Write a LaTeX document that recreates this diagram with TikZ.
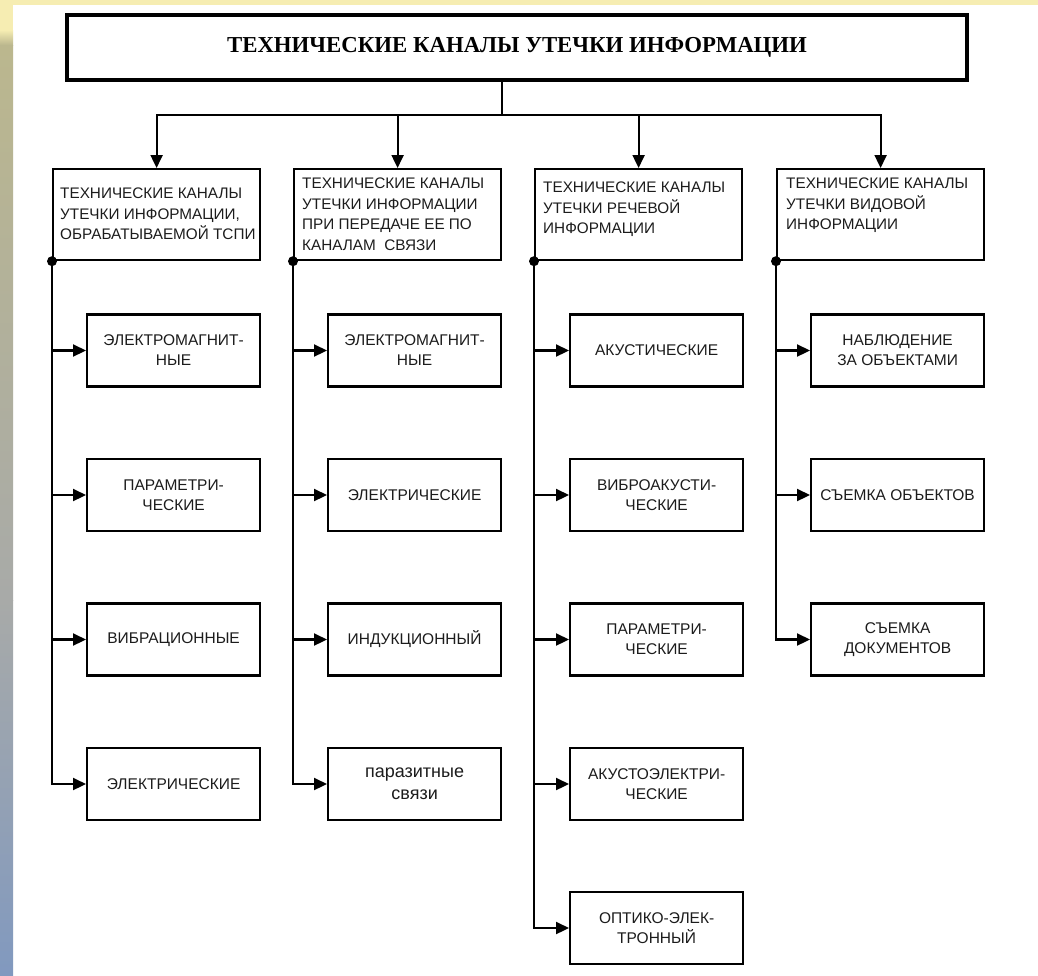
\documentclass[tikz,border=0pt]{standalone}
\usepackage{fontspec}
\setmainfont{Liberation Sans}
\newfontfamily\titlefont{Liberation Serif}
\usetikzlibrary{arrows.meta}
\definecolor{bgyellow}{HTML}{F6EDB2}
\definecolor{bgolive}{HTML}{BBB78E}
\definecolor{bgmid}{HTML}{A8AAA8}
\definecolor{bgblue}{HTML}{8199BF}
\definecolor{txt}{HTML}{1C1C1C}
\begin{document}
\begin{tikzpicture}[x=1pt,y=-1pt,
  titlebox/.style={draw, line width=4.5pt, minimum width=900pt, minimum height=65pt, inner sep=0pt,
    font={\titlefont\bfseries\fontsize{22.8}{27}\selectfont}},
  catbox/.style={draw, line width=2.2pt, minimum width=207pt, minimum height=91pt, inner sep=0pt, anchor=north west},
  cattext/.style={anchor=north west, inner sep=0pt, align=left, text=txt, font={\fontsize{15.3}{20.5}\selectfont}},
  childbox/.style={draw, line width=2.2pt, minimum width=173pt, minimum height=72pt, inner sep=0pt, anchor=west,
    align=center, text=txt, font={\fontsize{15.5}{20}\selectfont}},
  conn/.style={line width=2.2pt},
  arr/.style={line width=2.2pt, -{Triangle[length=13pt,width=12pt]}},
  dot/.style={circle, fill=black, inner sep=0pt, minimum size=10pt}
]
\useasboundingbox (0,0) rectangle (1038,975);
% background
\fill[white] (0,0) rectangle (1038,975);
\fill[bgyellow] (0,0) rectangle (1038,5);
\fill[bgyellow] (0,0) rectangle (13,30);
\shade[top color=bgyellow, bottom color=bgolive] (0,30) rectangle (13,45);
\shade[top color=bgolive, bottom color=bgmid] (0,45) rectangle (13,600);
\shade[top color=bgmid, bottom color=bgblue] (0,600) rectangle (13,975);

% title
\node[titlebox] (title) at (517,47.5) {ТЕХНИЧЕСКИЕ КАНАЛЫ УТЕЧКИ ИНФОРМАЦИИ};
\coordinate (hub) at (502,115);

% category boxes
\node[catbox] (c1) at (52,168) {};
\node[catbox] (c2) at (293,168) {};
\node[catbox] (c3) at (534,168) {};
\node[catbox] (c4) at (776,168) {};
\node[cattext] (t1) at ([shift={(8,20)}]c1.north west) {ТЕХНИЧЕСКИЕ КАНАЛЫ\\УТЕЧКИ ИНФОРМАЦИИ,\\ОБРАБАТЫВАЕМОЙ ТСПИ};
\node[cattext] (t2) at ([shift={(9,10)}]c2.north west) {ТЕХНИЧЕСКИЕ КАНАЛЫ\\УТЕЧКИ ИНФОРМАЦИИ\\ПРИ ПЕРЕДАЧЕ ЕЕ ПО\\КАНАЛАМ\ \ СВЯЗИ};
\node[cattext] (t3) at ([shift={(9,14)}]c3.north west) {ТЕХНИЧЕСКИЕ КАНАЛЫ\\УТЕЧКИ РЕЧЕВОЙ\\ИНФОРМАЦИИ};
\node[cattext] (t4) at ([shift={(10,10)}]c4.north west) {ТЕХНИЧЕСКИЕ КАНАЛЫ\\УТЕЧКИ ВИДОВОЙ\\ИНФОРМАЦИИ};

% top connectors
\draw[conn] (title.south -| hub) -- (hub);
\draw[arr] (hub) -| (c1.north);
\draw[arr] (hub) -| (c2.north);
\draw[arr] (hub) -| (c3.north);
\draw[arr] (hub) -| (c4.north);

% column 1
\node[childbox] (a1) at (86,350.5) {ЭЛЕКТРОМАГНИТ-\\НЫЕ};
\node[childbox] (a2) at (86,495) {ПАРАМЕТРИ-\\ЧЕСКИЕ};
\node[childbox] (a3) at (86,639.5) {ВИБРАЦИОННЫЕ};
\node[childbox] (a4) at (86,784) {ЭЛЕКТРИЧЕСКИЕ};
% column 2
\node[childbox] (b1) at (327,350.5) {ЭЛЕКТРОМАГНИТ-\\НЫЕ};
\node[childbox] (b2) at (327,495) {ЭЛЕКТРИЧЕСКИЕ};
\node[childbox] (b3) at (327,639.5) {ИНДУКЦИОННЫЙ};
\node[childbox, font={\fontsize{18}{22}\selectfont}] (b4) at (327,784) {паразитные\\связи};
% column 3
\node[childbox] (d1) at (569,350.5) {АКУСТИЧЕСКИЕ};
\node[childbox] (d2) at (569,495) {ВИБРОАКУСТИ-\\ЧЕСКИЕ};
\node[childbox] (d3) at (569,639.5) {ПАРАМЕТРИ-\\ЧЕСКИЕ};
\node[childbox] (d4) at (569,784) {АКУСТОЭЛЕКТРИ-\\ЧЕСКИЕ};
\node[childbox] (d5) at (569,928) {ОПТИКО-ЭЛЕК-\\ТРОННЫЙ};
% column 4
\node[childbox] (e1) at (810,350.5) {НАБЛЮДЕНИЕ\\ЗА ОБЪЕКТАМИ};
\node[childbox] (e2) at (810,495) {СЪЕМКА ОБЪЕКТОВ};
\node[childbox] (e3) at (810,639.5) {СЪЕМКА\\ДОКУМЕНТОВ};

% branch connectors
\foreach \c/\list in {c1/{a1,a2,a3,a4}, c2/{b1,b2,b3,b4}, c3/{d1,d2,d3,d4,d5}, c4/{e1,e2,e3}} {
  \foreach \k in \list { \draw[arr] (\c.south west) |- (\k.west); }
}
\node[dot] (p1) at (c1.south west) {};
\node[dot] (p2) at (c2.south west) {};
\node[dot] (p3) at (c3.south west) {};
\node[dot] (p4) at (c4.south west) {};
\end{tikzpicture}
\end{document}
